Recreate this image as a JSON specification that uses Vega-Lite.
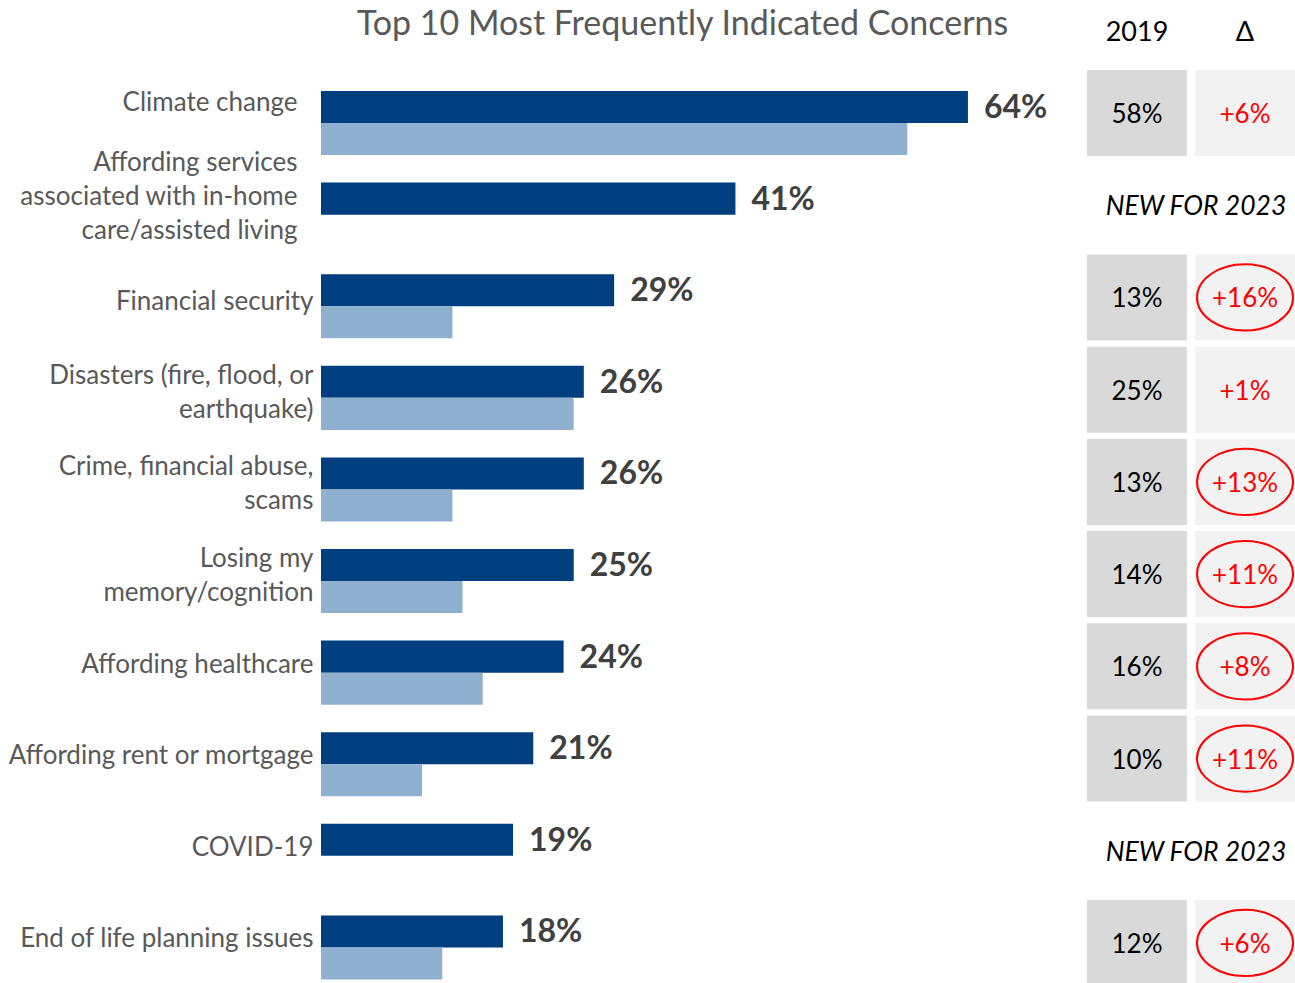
{
  "$schema": "https://vega.github.io/schema/vega-lite/v6.json",
  "padding": {"left": 0, "top": 7, "right": 0, "bottom": 0},
  "background": "white",
  "spacing": 20,
  "config": {"view": {"stroke": null}, "font": "Lato"},
  "datasets": {
    "bars": [
      {"concern": "Climate change", "year": "2023", "value": 64},
      {"concern": "Climate change", "year": "2019", "value": 58},
      {"concern": "Affording services|associated with in-home|care/assisted living", "year": "2023", "value": 41},
      {"concern": "Financial security", "year": "2023", "value": 29},
      {"concern": "Financial security", "year": "2019", "value": 13},
      {"concern": "Disasters (fire, flood, or|earthquake)", "year": "2023", "value": 26},
      {"concern": "Disasters (fire, flood, or|earthquake)", "year": "2019", "value": 25},
      {"concern": "Crime, financial abuse,|scams", "year": "2023", "value": 26},
      {"concern": "Crime, financial abuse,|scams", "year": "2019", "value": 13},
      {"concern": "Losing my|memory/cognition", "year": "2023", "value": 25},
      {"concern": "Losing my|memory/cognition", "year": "2019", "value": 14},
      {"concern": "Affording healthcare", "year": "2023", "value": 24},
      {"concern": "Affording healthcare", "year": "2019", "value": 16},
      {"concern": "Affording rent or mortgage", "year": "2023", "value": 21},
      {"concern": "Affording rent or mortgage", "year": "2019", "value": 10},
      {"concern": "COVID-19", "year": "2023", "value": 19},
      {"concern": "End of life planning issues", "year": "2023", "value": 18},
      {"concern": "End of life planning issues", "year": "2019", "value": 12}
    ],
    "table": [
      {"concern": "Climate change", "col": "2019", "label": "58%", "kind": "cell", "circled": false},
      {"concern": "Climate change", "col": "Δ", "label": "+6%", "kind": "cell", "circled": false},
      {"concern": "Affording services|associated with in-home|care/assisted living", "col": "2019", "label": "NEW FOR 2023", "kind": "new", "circled": false},
      {"concern": "Financial security", "col": "2019", "label": "13%", "kind": "cell", "circled": false},
      {"concern": "Financial security", "col": "Δ", "label": "+16%", "kind": "cell", "circled": true},
      {"concern": "Disasters (fire, flood, or|earthquake)", "col": "2019", "label": "25%", "kind": "cell", "circled": false},
      {"concern": "Disasters (fire, flood, or|earthquake)", "col": "Δ", "label": "+1%", "kind": "cell", "circled": false},
      {"concern": "Crime, financial abuse,|scams", "col": "2019", "label": "13%", "kind": "cell", "circled": false},
      {"concern": "Crime, financial abuse,|scams", "col": "Δ", "label": "+13%", "kind": "cell", "circled": true},
      {"concern": "Losing my|memory/cognition", "col": "2019", "label": "14%", "kind": "cell", "circled": false},
      {"concern": "Losing my|memory/cognition", "col": "Δ", "label": "+11%", "kind": "cell", "circled": true},
      {"concern": "Affording healthcare", "col": "2019", "label": "16%", "kind": "cell", "circled": false},
      {"concern": "Affording healthcare", "col": "Δ", "label": "+8%", "kind": "cell", "circled": true},
      {"concern": "Affording rent or mortgage", "col": "2019", "label": "10%", "kind": "cell", "circled": false},
      {"concern": "Affording rent or mortgage", "col": "Δ", "label": "+11%", "kind": "cell", "circled": true},
      {"concern": "COVID-19", "col": "2019", "label": "NEW FOR 2023", "kind": "new", "circled": false},
      {"concern": "End of life planning issues", "col": "2019", "label": "12%", "kind": "cell", "circled": false},
      {"concern": "End of life planning issues", "col": "Δ", "label": "+6%", "kind": "cell", "circled": true}
    ]
  },
  "resolve": {"scale": {"x": "independent", "y": "independent", "color": "independent"}},
  "hconcat": [
    {
      "width": 746,
      "height": 915,
      "data": {"name": "bars"},
      "encoding": {
        "y": {
          "field": "concern",
          "type": "nominal",
          "sort": null,
          "scale": {
            "domain": ["Climate change", "Affording services|associated with in-home|care/assisted living", "Financial security", "Disasters (fire, flood, or|earthquake)", "Crime, financial abuse,|scams", "Losing my|memory/cognition", "Affording healthcare", "Affording rent or mortgage", "COVID-19", "End of life planning issues"],
            "range": [23, 911.5],
            "paddingInner": 0.3,
            "paddingOuter": 0
          },
          "axis": {
            "title": null,
            "domain": false,
            "ticks": false,
            "labelFont": "Lato",
            "labelFontSize": 26,
            "labelColor": "#595959",
            "labelExpr": "split(datum.label, '|')",
            "labelLineHeight": 34,
            "labelLimit": 500,
            "labelPadding": {"condition": {"test": "datum.index < 0.15", "value": 24}, "value": 8},
            "labelOffset": {
              "condition": [
                {"test": "datum.value == 'Climate change'", "value": -20},
                {"test": "length(split(datum.value, '|')) == 3", "value": -52},
                {"test": "length(split(datum.value, '|')) == 2", "value": -22},
                {"test": "datum.value == 'Financial security'", "value": -4}
              ],
              "value": -8
            },
            "minExtent": 321,
            "maxExtent": 321
          }
        },
        "x": {
          "field": "value",
          "type": "quantitative",
          "scale": {"domain": [0, 73.8], "nice": false},
          "axis": {
            "orient": "top",
            "domain": false,
            "ticks": false,
            "labels": false,
            "grid": false,
            "minExtent": 0,
            "maxExtent": 0,
            "title": "Top 10 Most Frequently Indicated Concerns",
            "titleFont": "Lato",
            "titleFontSize": 34,
            "titleFontWeight": "normal",
            "titleColor": "#595959",
            "titleX": 361,
            "titleY": -34,
            "titleAlign": "center",
            "titleBaseline": "alphabetic"
          }
        },
        "yOffset": {"field": "year", "type": "nominal", "scale": {"domain": ["2023", "2019"], "paddingInner": 0, "paddingOuter": 0}}
      },
      "layer": [
        {
          "mark": {"type": "bar"},
          "encoding": {
            "color": {"field": "year", "type": "nominal", "scale": {"domain": ["2023", "2019"], "range": ["#003F7F", "#8FB1CF"]}, "legend": null}
          }
        },
        {
          "transform": [{"filter": "datum.year == '2023'"}, {"calculate": "datum.value + '%'", "as": "valueLabel"}],
          "mark": {"type": "text", "align": "left", "baseline": "middle", "dx": 16, "dy": 1, "fontWeight": "bold", "fontSize": 32, "color": "#404040", "font": "Lato"},
          "encoding": {"text": {"field": "valueLabel"}}
        }
      ]
    },
    {
      "width": 208,
      "height": 915,
      "data": {"name": "table"},
      "encoding": {
        "y": {
          "field": "concern",
          "type": "nominal",
          "sort": null,
          "scale": {
            "domain": ["Climate change", "Affording services|associated with in-home|care/assisted living", "Financial security", "Disasters (fire, flood, or|earthquake)", "Crime, financial abuse,|scams", "Losing my|memory/cognition", "Affording healthcare", "Affording rent or mortgage", "COVID-19", "End of life planning issues"],
            "range": [2, 918],
            "paddingInner": 0.067,
            "paddingOuter": 0
          },
          "axis": null
        },
        "x": {
          "field": "col",
          "type": "nominal",
          "sort": null,
          "scale": {"domain": ["2019", "Δ"], "paddingInner": 0.075, "paddingOuter": 0},
          "axis": {
            "orient": "top",
            "title": null,
            "domain": false,
            "ticks": false,
            "labelAngle": 0,
            "labelFont": "Lato",
            "labelFontSize": 27,
            "labelColor": "#000000",
            "labelPadding": 28,
            "labelBaseline": "alphabetic"
          }
        }
      },
      "layer": [
        {
          "transform": [{"filter": "datum.kind == 'cell'"}],
          "mark": {"type": "rect", "clip": true},
          "encoding": {
            "color": {"field": "col", "type": "nominal", "scale": {"domain": ["2019", "Δ"], "range": ["#D9D9D9", "#F2F2F2"]}, "legend": null}
          }
        },
        {
          "transform": [{"filter": "datum.kind == 'cell'"}],
          "mark": {"type": "text", "fontSize": 26, "font": "Lato", "baseline": "middle", "dy": 2},
          "encoding": {
            "text": {"field": "label"},
            "color": {"condition": {"test": "datum.col == 'Δ'", "value": "#FF0000"}, "value": "#000000"}
          }
        },
        {
          "transform": [{"filter": "datum.circled"}],
          "mark": {"type": "point", "shape": "M-1,0A1,0.69,0,1,1,1,0A1,0.69,0,1,1,-1,0Z", "size": 9216, "filled": false, "stroke": "#FF0000", "strokeWidth": 2, "opacity": 1}
        },
        {
          "transform": [{"filter": "datum.kind == 'new'"}],
          "mark": {"type": "text", "fontSize": 26.5, "fontStyle": "italic", "font": "Lato", "color": "#000000", "dx": 9, "dy": 2, "baseline": "middle"},
          "encoding": {
            "x": {"field": "col", "type": "nominal", "bandPosition": 1},
            "text": {"field": "label"}
          }
        }
      ]
    }
  ]
}
